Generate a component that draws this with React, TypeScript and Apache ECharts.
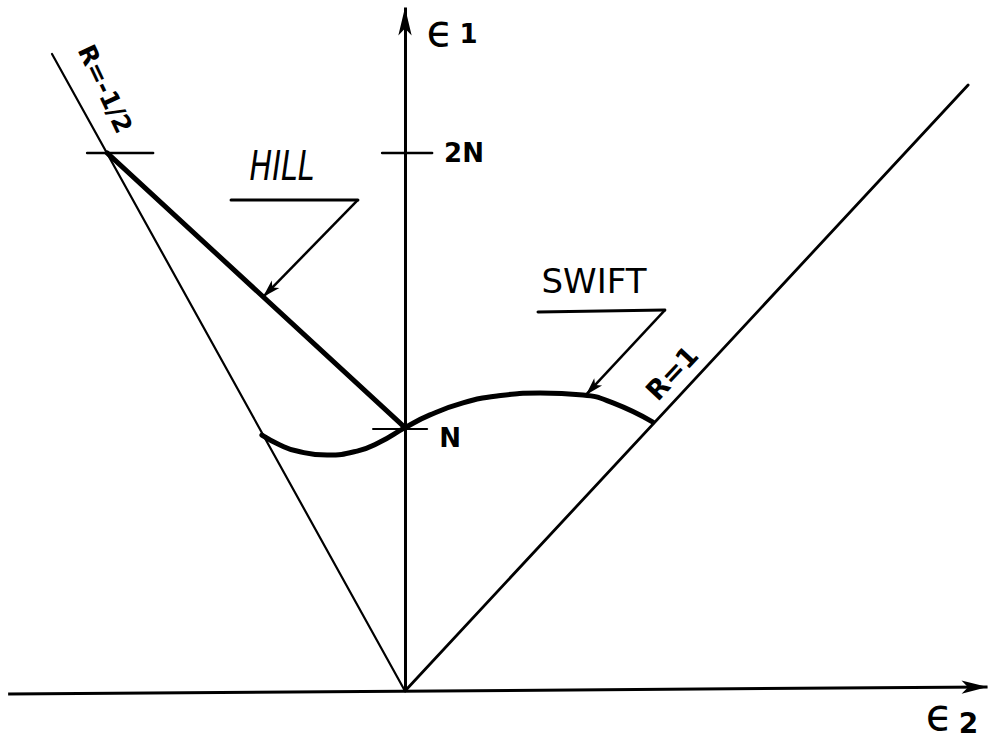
import { useEffect, useRef } from "react";
import * as echarts from "echarts";

// Coordinates in units of N (ε2 horizontal, ε1 vertical), origin at the vertex.
const epsilon2Axis = [[-1.492, -0.011], [2.19, 0.015]];
const epsilon1Axis = [[0, 0], [0, 2.57]];
const boundaryRHalf = [[0, 0], [-1.327, 2.395]]; // R = -1/2
const boundaryROne = [[0, 0], [2.117, 2.278]]; // R = 1
const hillCurve = [[-1.12, 2.023], [0, 0.99]];
const swiftCurve = [
  [-0.538, 0.962], [-0.47, 0.925], [-0.406, 0.902], [-0.293, 0.887],
  [-0.18, 0.902], [-0.094, 0.936], [0, 0.99], [0.094, 1.038],
  [0.218, 1.083], [0.346, 1.109], [0.508, 1.12], [0.669, 1.113],
  [0.782, 1.083], [0.932, 1.011],
];
const tickN = [[-0.12, 0.985], [0.083, 0.985]];
const tick2NAxis = [[-0.086, 2.023], [0.102, 2.023]];
const tick2NLeft = [[-1.195, 2.023], [-0.947, 2.023]];
const hillLeaderBar = [[-0.654, 1.846], [-0.177, 1.846]];
const hillLeaderArrow = [[-0.177, 1.846], [-0.534, 1.481]];
const swiftLeaderBar = [[0.5, 1.425], [0.977, 1.432]];
const swiftLeaderArrow = [[0.977, 1.432], [0.68, 1.113]];

const tickLabels = ["N", "2N"];
const axisSymbol = "ϵ";
const axisIndices = ["1", "2"];
const curveLabels = ["HILL", "SWIFT"];
const ratioLabels = ["R=-1/2", "R=1"];

const X_MIN = -405 / 266;
const X_MAX = (994 - 405) / 266;
const Y_MIN = -(741 - 691) / 266;
const Y_MAX = 691 / 266;

function seg(data: number[][], width: number, smooth: boolean | number = false) {
  return {
    type: "line",
    data,
    symbol: "none",
    smooth,
    silent: true,
    lineStyle: { color: "#000", width, cap: "round", join: "round" },
    z: 2,
  };
}

function arrow(data: number[][], width: number, size: number[]) {
  return {
    type: "line",
    data: [],
    symbol: "none",
    silent: true,
    markLine: {
      silent: true,
      symbol: ["none", "arrow"],
      symbolSize: size,
      label: { show: false },
      lineStyle: { color: "#000", width, type: "solid", opacity: 1 },
      emphasis: { disabled: true },
      data: [[{ coord: data[0] }, { coord: data[1] }]],
    },
  };
}

export default function App() {
  const ref = useRef<HTMLDivElement>(null);
  useEffect(() => {
    document.body.style.margin = "0";
    const chart = echarts.init(ref.current!, null, { renderer: "svg" });
    const font = '"DejaVu Sans", sans-serif';
    const txt = (x: number, y: number, text: string, f: string, extra: any = {}) => ({
      type: "text",
      x,
      y,
      ...extra,
      style: { text, font: f, fill: "#000", align: "center", verticalAlign: "middle" },
    });
    const epsLabel = (x: number, y: number, idx: string, big: number, small: number, subOffset: number) => ({
      type: "text",
      x,
      y,
      style: {
        text: `{e|${axisSymbol}}{s|${idx}}`,
        align: "center",
        verticalAlign: "middle",
        fill: "#000",
        rich: {
          e: { fontFamily: "DejaVu Sans", fontSize: big, fontWeight: "normal", fill: "#000", padding: [0, 6, 0, 0] },
          s: { fontFamily: "DejaVu Sans", fontSize: small, fontWeight: "bold", fill: "#000", padding: [subOffset, 0, 0, 0] },
        },
      },
    });
    chart.setOption({
      animation: false,
      backgroundColor: "#fff",
      grid: { left: 0, top: 0, width: 994, height: 741 },
      xAxis: { type: "value", min: X_MIN, max: X_MAX, show: false },
      yAxis: { type: "value", min: Y_MIN, max: Y_MAX, show: false },
      series: [
        arrow(epsilon2Axis, 3, [10, 26]),
        arrow(epsilon1Axis, 3, [10, 28]),
        seg(boundaryRHalf, 2.2),
        seg(boundaryROne, 2.8),
        seg(hillCurve, 5),
        seg(swiftCurve, 5, 0.5),
        seg(tickN, 2.2),
        seg(tick2NAxis, 2.5),
        seg(tick2NLeft, 2.5),
        seg(hillLeaderBar, 3),
        arrow(hillLeaderArrow, 2.5, [8, 18]),
        seg(swiftLeaderBar, 3),
        arrow(swiftLeaderArrow, 2.5, [8, 18]),
      ],
      graphic: [
        epsLabel(452, 30, axisIndices[0], 44, 26, 8),
        epsLabel(952, 714, axisIndices[1], 44, 28, 18),
        txt(450, 438, tickLabels[0], `bold 26px ${font}`),
        txt(464, 153, tickLabels[1], `bold 26px ${font}`),
        txt(282, 166, curveLabels[0], `italic 40px ${font}`, { scaleX: 0.75 }),
        txt(594, 281, curveLabels[1], `34px ${font}`, { scaleX: 1.0 }),
        txt(105, 89, ratioLabels[0], `bold 25px ${font}`, { rotation: -1.13 }),
        txt(672, 373, ratioLabels[1], `bold 27px ${font}`, { rotation: 0.82 }),
      ],
    });
    return () => chart.dispose();
  }, []);
  return <div ref={ref} style={{ width: 994, height: 741 }} />;
}
